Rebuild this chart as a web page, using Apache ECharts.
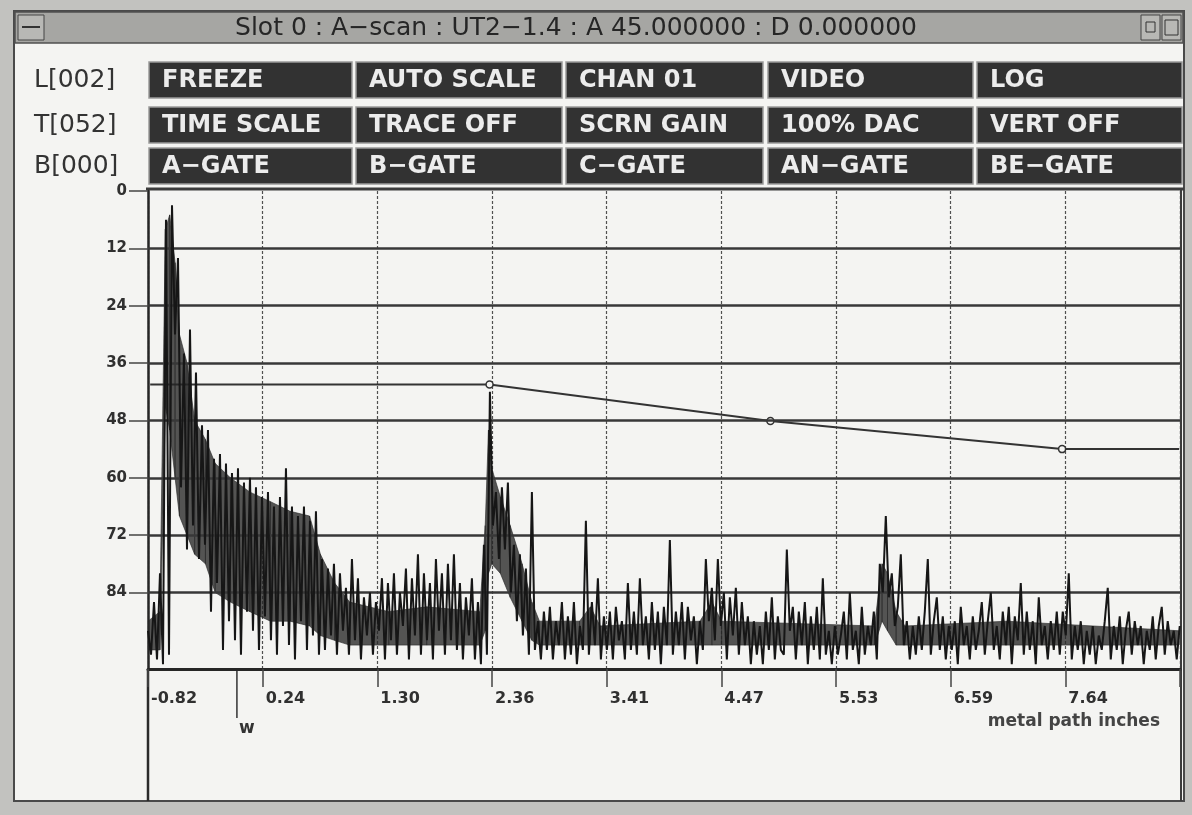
<!DOCTYPE html>
<html>
<head>
<meta charset="utf-8">
<title>A-scan</title>
<script src="https://cdn.jsdelivr.net/npm/echarts@6/dist/echarts.min.js"></script>
<style>
  html, body { margin: 0; padding: 0; background: #c2c2bf; }
  #chart { width: 1192px; height: 815px; }
</style>
</head>
<body>
<div id="chart"></div>
<script>
// metal path axis (inches), one division = 1.0575 in, starting at -0.82
var xMin = -0.82;
var xStep = 1.0575;
var xMax = xMin + 9 * xStep;
var xTickLabels = ['-0.82', '0.24', '1.30', '2.36', '3.41', '4.47', '5.53', '6.59', '7.64'];

// vertical scale, 0 at the top
var yTickValues = [0, 12, 24, 36, 48, 60, 72, 84];
var gridLevels = [12, 24, 36, 48, 60, 72, 84];

// a-scan samples, one every traceStep inches from xMin
var traceStep = 0.02766;
var traceValues = [
  92, 97, 86, 98, 80, 99, 6, 97, 3, 30, 14, 62, 34, 75, 29, 70, 38, 77, 49, 74,
  50, 88, 56, 82, 55, 96, 57, 90, 59, 94, 58, 97, 61, 88, 60, 92, 62, 96, 64, 89,
  63, 94, 66, 97, 64, 91, 58, 95, 66, 98, 68, 90, 66, 96, 69, 93, 67, 97, 77, 96,
  79, 93, 78, 97, 80, 92, 83, 97, 77, 94, 81, 98, 85, 93, 84, 97, 86, 92, 81, 98,
  82, 94, 80, 97, 84, 91, 79, 98, 81, 93, 76, 97, 80, 94, 82, 98, 77, 92, 80, 97,
  78, 94, 76, 96, 82, 98, 85, 93, 81, 98, 86, 99, 74, 97, 42, 70, 63, 77, 62, 75,
  61, 84, 74, 90, 76, 93, 79, 97, 63, 96, 90, 98, 88, 96, 87, 98, 90, 95, 86, 98,
  89, 97, 86, 99, 91, 96, 69, 97, 86, 95, 81, 98, 89, 96, 88, 98, 87, 94, 90, 98,
  82, 96, 88, 97, 81, 95, 89, 98, 86, 96, 88, 99, 87, 95, 73, 97, 88, 95, 86, 98,
  87, 94, 89, 99, 90, 96, 77, 90, 83, 94, 77, 91, 84, 98, 85, 93, 83, 97, 86, 95,
  89, 99, 90, 97, 91, 99, 88, 96, 85, 98, 89, 96, 97, 75, 92, 87, 98, 88, 95, 86,
  99, 89, 96, 87, 98, 81, 97, 92, 99, 91, 97, 93, 88, 98, 84, 96, 92, 99, 87, 97,
  91, 95, 88, 98, 78, 84, 68, 85, 80, 91, 87, 76, 95, 90, 98, 91, 97, 89, 96, 88,
  77, 97, 90, 85, 96, 89, 98, 91, 96, 90, 99, 87, 95, 91, 98, 89, 96, 92, 86, 97,
  90, 84, 96, 91, 98, 88, 95, 87, 99, 89, 94, 82, 97, 88, 96, 90, 99, 85, 95, 91,
  98, 90, 96, 88, 97, 88, 93, 80, 98, 91, 96, 90, 99, 92, 97, 91, 99, 93, 96, 90,
  83, 98, 91, 96, 89, 99, 92, 88, 97, 90, 95, 91, 99, 92, 96, 89, 98, 91, 87, 97,
  90, 95, 92, 98, 91
];

// dense body of the trace (where the samples blur into solid black)
var envX = [-0.82, -0.71, -0.66, -0.62, -0.57, -0.53, -0.46, -0.39, -0.29, -0.20,
  -0.06, 0.12, 0.31, 0.49, 0.67, 0.77, 0.90, 1.04, 1.40, 1.75, 2.24, 2.29, 2.32,
  2.35, 2.43, 2.52, 2.63, 2.72, 2.79, 3.16, 3.26, 3.35, 4.27, 4.38, 4.47, 5.88,
  5.95, 6.00, 6.08, 6.16, 7.10, 8.69];
var envTop = [90, 88, 8, 5, 15, 30, 36, 48, 52, 57,
  60, 63, 65, 67, 68, 76, 82, 86, 88, 87, 88, 70, 50,
  58, 64, 70, 78, 86, 90, 90, 87, 91, 90, 86, 90, 91,
  78, 80, 88, 91, 90, 92];
var envBottom = [96, 96, 45, 50, 60, 68, 72, 76, 78, 84,
  86, 88, 90, 90, 91, 93, 94, 95, 95, 95, 95, 92, 80,
  78, 80, 85, 90, 94, 95, 95, 95, 95, 95, 95, 95, 95,
  90, 92, 95, 95, 95, 95];

// DAC reference curve
var dacX = [-0.80, 2.33, 4.92, 7.61, 8.69];
var dacY = [40.5, 40.5, 48.1, 54.0, 54.0];
var dacPoints = [false, true, true, true, false];

var wMarkX = 0.0;

var titleText = 'Slot 0 : A\u2212scan : UT2\u22121.4 : A 45.000000 : D 0.000000';
var rowLabels = ['L[002]', 'T[052]', 'B[000]'];
var buttonRows = [
  ['FREEZE', 'AUTO SCALE', 'CHAN 01', 'VIDEO', 'LOG'],
  ['TIME SCALE', 'TRACE OFF', 'SCRN GAIN', '100% DAC', 'VERT OFF'],
  ['A\u2212GATE', 'B\u2212GATE', 'C\u2212GATE', 'AN\u2212GATE', 'BE\u2212GATE']
];

var chart = echarts.init(document.getElementById('chart'));
var font = 'DejaVu Sans';

var traceData = traceValues.map(function (v, i) { return [xMin + i * traceStep, v]; });
// one quad per pair of neighbouring envelope points
var envSegments = [];
for (var i = 0; i < envX.length - 1; i++) {
  envSegments.push([envX[i], envTop[i], envBottom[i], envX[i + 1], envTop[i + 1], envBottom[i + 1]]);
}
var dacData = dacX.map(function (x, i) {
  return { value: [x, dacY[i]], symbol: dacPoints[i] ? 'circle' : 'none', symbolSize: 7 };
});

chart.setOption({
  animation: false,
  backgroundColor: '#f4f4f2',
  grid: { left: 148, right: 12, top: 191, bottom: 146 },
  xAxis: {
    type: 'value',
    min: xMin,
    max: xMax,
    interval: xStep,
    axisLine: { onZero: false, lineStyle: { color: '#262626', width: 3 } },
    axisTick: { length: 18, lineStyle: { color: '#444', width: 1.5 } },
    axisLabel: {
      align: 'left',
      margin: 22,
      padding: [0, 0, 0, 3],
      color: '#303030',
      fontFamily: font,
      fontWeight: 'bold',
      fontSize: 16,
      formatter: function (v) {
        var idx = Math.round((v - xMin) / xStep);
        return xTickLabels[idx] || '';
      }
    },
    splitLine: { show: true, lineStyle: { color: '#505050', width: 1.2, type: [3, 2] } }
  },
  yAxis: {
    type: 'value',
    inverse: true,
    min: 0,
    max: 100,
    interval: 12,
    axisLine: { show: true, onZero: false, lineStyle: { color: '#262626', width: 2.5 } },
    axisTick: { show: true, customValues: yTickValues, length: 19, lineStyle: { color: '#444', width: 1.5 } },
    axisLabel: {
      customValues: yTickValues,
      margin: 21,
      color: '#303030',
      fontFamily: font,
      fontWeight: 'bold',
      fontSize: 15
    },
    splitLine: { show: false }
  },
  series: [
    {
      type: 'line',
      name: 'levels',
      data: [],
      silent: true,
      z: 1,
      markLine: {
        symbol: 'none',
        silent: true,
        label: { show: false },
        lineStyle: { color: '#383838', width: 2.6, type: 'solid' },
        data: gridLevels.map(function (v) { return { yAxis: v }; })
      }
    },
    {
      type: 'line',
      name: 'DAC',
      data: dacData,
      showSymbol: true,
      itemStyle: { color: '#f4f4f2', borderColor: '#333', borderWidth: 1.5 },
      lineStyle: { color: '#333', width: 2 },
      z: 3
    },
    {
      type: 'custom',
      name: 'body',
      data: envSegments,
      encode: { x: [0, 3], y: [1, 2, 4, 5] },
      silent: true,
      clip: true,
      z: 4,
      renderItem: function (params, api) {
        var a = api.coord([api.value(0), api.value(1)]);
        var b = api.coord([api.value(3), api.value(4)]);
        var c = api.coord([api.value(3), api.value(5)]);
        var d = api.coord([api.value(0), api.value(2)]);
        return {
          type: 'polygon',
          shape: { points: [a, b, c, d] },
          style: { fill: '#262626', stroke: '#262626', lineWidth: 0.8, opacity: 0.78 }
        };
      }
    },
    {
      type: 'line',
      name: 'A-scan',
      data: traceData,
      showSymbol: false,
      lineStyle: { color: '#161616', width: 2 },
      z: 5
    }
  ]
});

// window chrome, buttons and extra labels
var wPx = chart.convertToPixel({ xAxisIndex: 0 }, wMarkX);
var g = [];
function rect(x, y, w, h, fill, stroke, lw) {
  g.push({ type: 'rect', shape: { x: x, y: y, width: w, height: h },
    style: { fill: fill || 'none', stroke: stroke || 'none', lineWidth: lw || 1 } });
}
function line(x1, y1, x2, y2, color, lw) {
  g.push({ type: 'line', shape: { x1: x1, y1: y1, x2: x2, y2: y2 },
    style: { stroke: color, lineWidth: lw } });
}
function text(x, y, s, fnt, fill, align) {
  g.push({ type: 'text', x: x, y: y,
    style: { text: s, font: fnt, fill: fill, textAlign: align || 'left', textVerticalAlign: 'middle' } });
}

// scanned border
rect(0, 0, 1192, 11, '#c2c2bf');
rect(0, 0, 14, 815, '#c2c2bf');
rect(1184, 0, 8, 815, '#c2c2bf');
rect(0, 801, 1192, 14, '#c2c2bf');
rect(14, 11, 1170, 790, null, '#4a4a4a', 2);

// title bar
rect(15, 12, 1168, 31, '#a6a6a3', '#505050', 1.5);
rect(18, 15, 26, 25, '#b8b8b5', '#444', 1);
line(22, 27, 40, 27, '#333', 2);
rect(1141, 15, 19, 25, '#b8b8b5', '#444', 1);
rect(1146, 22, 9, 10, null, '#333', 1);
rect(1162, 15, 19, 25, '#b8b8b5', '#444', 1);
rect(1165, 20, 13, 15, null, '#333', 1);
text(576, 28, titleText, '25px ' + font, '#262626', 'center');

// buttons
var colLeft = [149, 356, 566, 768, 977];
var colWidth = [203, 206, 197, 205, 205];
var rowTop = [62, 107, 148];
var rowHeight = 36;
var rowMid = [80, 125, 166];
rowLabels.forEach(function (s, r) {
  text(34, rowMid[r], s, '25px ' + font, '#333');
});
buttonRows.forEach(function (row, r) {
  row.forEach(function (s, c) {
    rect(colLeft[c], rowTop[r], colWidth[c], rowHeight, '#323232', '#9a9a9a', 1.5);
    text(colLeft[c] + 13, rowTop[r] + rowHeight / 2 + 1, s, 'bold 24px ' + font, '#ececec');
  });
});

// plot frame pieces
line(146, 189, 1184, 189, '#3c3c3c', 3);
line(148, 669, 148, 801, '#2a2a2a', 2.5);
line(1181, 189, 1181, 801, '#3c3c3c', 2);

// w marker and axis caption
line(wPx, 669, wPx, 718, '#333', 1.5);
text(wPx + 2, 729, 'w', 'bold 17px ' + font, '#333');
text(1160, 722, 'metal path inches', 'bold 17px ' + font, '#444', 'right');

chart.setOption({ graphic: g });
</script>
</body>
</html>
